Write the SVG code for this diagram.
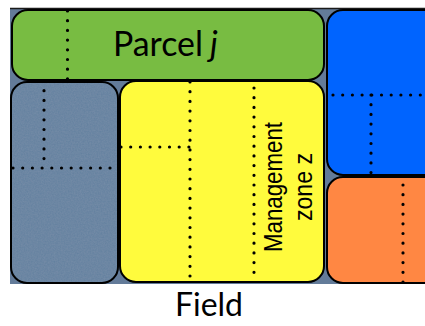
<svg xmlns="http://www.w3.org/2000/svg" width="425" height="326" viewBox="0 0 425 326">
  <style>
    .zone { stroke: #000; stroke-width: 2; }
    .dots { fill: none; stroke: #000; stroke-width: 3.2; stroke-linecap: round; stroke-dasharray: 0 9.7; }
    .label { font-family: "Lato", "Open Sans", sans-serif; fill: #000; }
    .side { font-family: "Liberation Sans", Arial, sans-serif; font-size: 26px; fill: #000; text-anchor: middle; }
  </style>
  <defs>
    <!-- fine grain for the textured plot -->
    <filter id="grain" x="0" y="0" width="100%" height="100%">
      <feTurbulence type="fractalNoise" baseFrequency="0.7" numOctaves="2" seed="3" result="noise"/>
      <feColorMatrix in="noise" type="matrix" values="0 0 0 0 0.22  0 0 0 0 0.3  0 0 0 0 0.42  0 0 0 0.6 0" result="tint"/>
      <feComposite in="tint" in2="SourceGraphic" operator="in" result="grainIn"/>
      <feMerge>
        <feMergeNode in="SourceGraphic"/>
        <feMergeNode in="grainIn"/>
      </feMerge>
    </filter>
  </defs>

  <!-- field background -->
  <g id="field">
    <rect x="10" y="8" width="420" height="276" fill="#637b99"/>
    <line x1="10" y1="8.5" x2="425" y2="8.5" stroke="#1a1a1a" stroke-width="1.5"/>
  </g>

  <g id="parcel-j">
    <rect class="zone" x="12" y="10" width="312" height="70" rx="16" fill="#78bc42"/>
  </g>

  <g id="plot-blue">
    <rect class="zone" x="327" y="10" width="115" height="165" rx="16" fill="#0064ff"/>
  </g>

  <g id="plot-orange">
    <rect class="zone" x="327" y="177" width="115" height="106" rx="16" fill="#ff8743"/>
  </g>

  <g id="plot-grey">
    <rect x="11" y="82" width="107" height="201" rx="16" fill="#62809f" filter="url(#grain)"/>
    <rect x="11" y="82" width="107" height="201" rx="16" fill="none" stroke="#000" stroke-width="2"/>
  </g>

  <g id="management-zone-z">
    <rect class="zone" x="120" y="81" width="204" height="201" rx="16" fill="#fffb3d"/>
  </g>

  <!-- sub-division lines -->
  <g id="connectors">
    <path class="dots" d="M67.5,11 V80"/>
    <path class="dots" d="M44,81 V168"/>
    <path class="dots" d="M13,168 H112"/>
    <path class="dots" d="M190,82 V278"/>
    <path class="dots" d="M121,147 H190"/>
    <path class="dots" d="M254,88 V274"/>
    <path class="dots" d="M333,95 H425"/>
    <path class="dots" d="M371,95 V174"/>
    <path class="dots" d="M403,185 V283"/>
  </g>

  <!-- labels -->
  <text class="label" x="113" y="56" font-size="34" textLength="90" lengthAdjust="spacingAndGlyphs">Parcel</text>
  <text class="label" x="210" y="56" font-size="34" font-style="italic">j</text>
  <g transform="translate(282,187) rotate(-90)">
    <text class="side" x="0" y="0" textLength="130" lengthAdjust="spacingAndGlyphs">Management</text>
    <text class="side" x="0" y="30" textLength="68" lengthAdjust="spacingAndGlyphs">zone z</text>
  </g>
  <text class="label" x="209" y="316" font-size="33" text-anchor="middle" textLength="68" lengthAdjust="spacingAndGlyphs">Field</text>
</svg>
